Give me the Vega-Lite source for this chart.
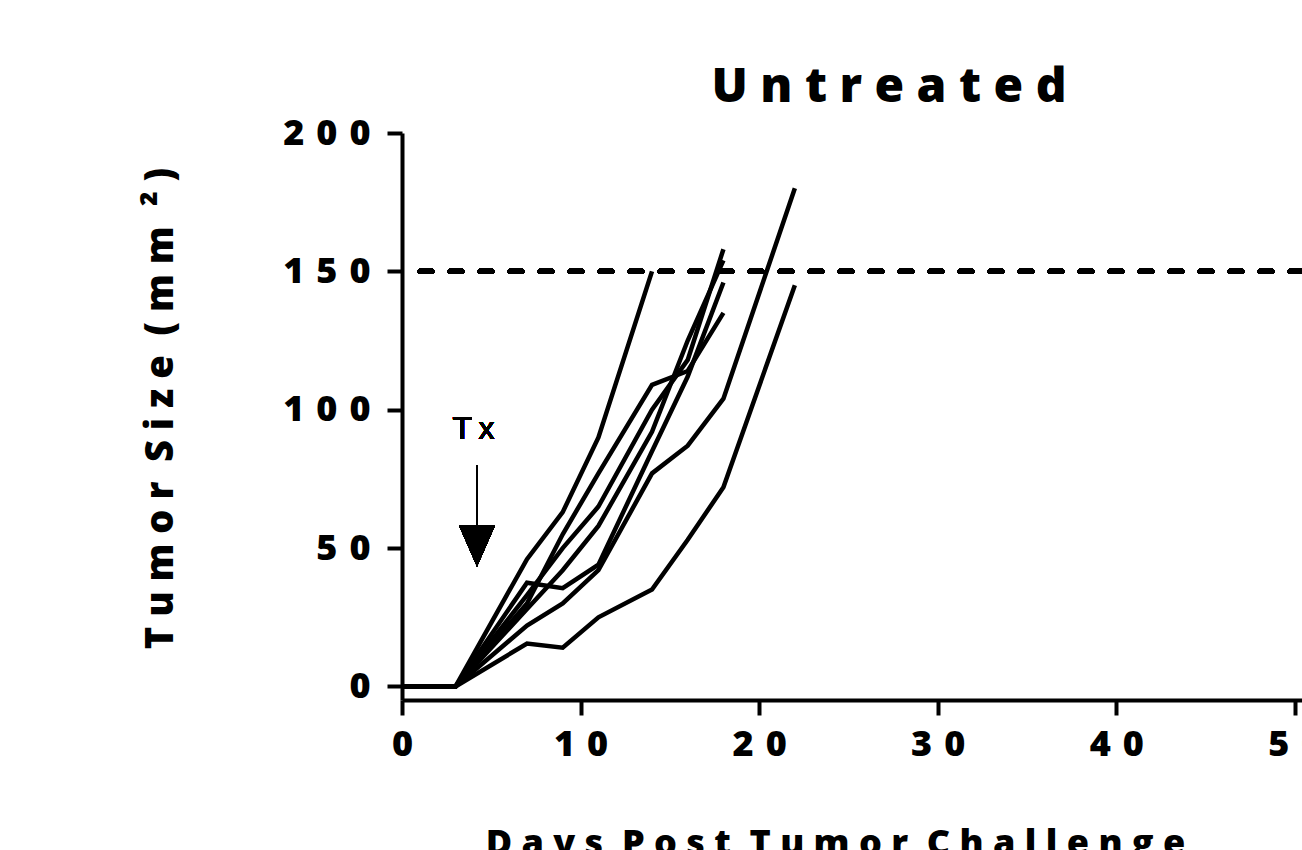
{
  "$schema": "https://vega.github.io/schema/vega-lite/v6.json",
  "width": 900,
  "height": 567,
  "autosize": {"type": "none"},
  "padding": {"left": 402, "top": 133, "right": 0, "bottom": 150},
  "background": "white",
  "config": {"view": {"stroke": null}, "font": "Open Sans"},
  "title": {"text": "U n t r e a t e d", "fontSize": 48, "fontWeight": 800, "font": "Open Sans", "color": "black", "anchor": "middle", "frame": "group", "baseline": "alphabetic", "offset": 29, "dx": 37, "dy": 64},
  "data": {"values": [
    {"mouse": "A", "day": 0, "size": 0}, {"mouse": "A", "day": 3, "size": 0}, {"mouse": "A", "day": 7, "size": 46}, {"mouse": "A", "day": 9, "size": 63}, {"mouse": "A", "day": 11, "size": 90}, {"mouse": "A", "day": 14, "size": 150},
    {"mouse": "B", "day": 0, "size": 0}, {"mouse": "B", "day": 3, "size": 0}, {"mouse": "B", "day": 7, "size": 33}, {"mouse": "B", "day": 9, "size": 50}, {"mouse": "B", "day": 11, "size": 65}, {"mouse": "B", "day": 14, "size": 100}, {"mouse": "B", "day": 16, "size": 118}, {"mouse": "B", "day": 18, "size": 158},
    {"mouse": "C", "day": 0, "size": 0}, {"mouse": "C", "day": 3, "size": 0}, {"mouse": "C", "day": 7, "size": 28}, {"mouse": "C", "day": 9, "size": 42}, {"mouse": "C", "day": 11, "size": 58}, {"mouse": "C", "day": 14, "size": 92}, {"mouse": "C", "day": 16, "size": 125}, {"mouse": "C", "day": 18, "size": 154},
    {"mouse": "D", "day": 0, "size": 0}, {"mouse": "D", "day": 3, "size": 0}, {"mouse": "D", "day": 7, "size": 37.5}, {"mouse": "D", "day": 9, "size": 35.5}, {"mouse": "D", "day": 11, "size": 44}, {"mouse": "D", "day": 14, "size": 85}, {"mouse": "D", "day": 16, "size": 112}, {"mouse": "D", "day": 18, "size": 146},
    {"mouse": "E", "day": 0, "size": 0}, {"mouse": "E", "day": 3, "size": 0}, {"mouse": "E", "day": 7, "size": 30}, {"mouse": "E", "day": 9, "size": 55}, {"mouse": "E", "day": 11, "size": 77}, {"mouse": "E", "day": 14, "size": 109}, {"mouse": "E", "day": 16, "size": 114}, {"mouse": "E", "day": 18, "size": 135},
    {"mouse": "F", "day": 0, "size": 0}, {"mouse": "F", "day": 3, "size": 0}, {"mouse": "F", "day": 7, "size": 22}, {"mouse": "F", "day": 9, "size": 30}, {"mouse": "F", "day": 11, "size": 42}, {"mouse": "F", "day": 14, "size": 77}, {"mouse": "F", "day": 16, "size": 87}, {"mouse": "F", "day": 18, "size": 104}, {"mouse": "F", "day": 22, "size": 180},
    {"mouse": "G", "day": 0, "size": 0}, {"mouse": "G", "day": 3, "size": 0}, {"mouse": "G", "day": 7, "size": 15.5}, {"mouse": "G", "day": 9, "size": 14}, {"mouse": "G", "day": 11, "size": 25}, {"mouse": "G", "day": 14, "size": 35}, {"mouse": "G", "day": 16, "size": 53}, {"mouse": "G", "day": 18, "size": 72}, {"mouse": "G", "day": 22, "size": 145}
  ]},
  "layer": [
    {
      "mark": {"type": "line", "color": "black", "strokeWidth": 4.5, "strokeJoin": "miter"},
      "encoding": {
        "x": {"field": "day", "type": "quantitative",
          "scale": {"domain": [0, 50.4], "nice": false, "zero": false},
          "axis": {"title": "D a y s \u00a0P o s t \u00a0T u m o r \u00a0C h a l l e n g e", "values": [0, 10, 20, 30, 40, 50], "grid": false,
            "domainColor": "black", "domainWidth": 4, "tickColor": "black", "tickWidth": 4, "tickSize": 15,
            "labelFont": "Open Sans", "labelFontSize": 36, "labelFontWeight": 800, "labelColor": "black", "labelPadding": 12,
            "labelFlush": false, "labelOverlap": false, "labelBound": false,
            "labelExpr": "join(split(datum.label, ''), '\u2004')",
            "titleFont": "Open Sans", "titleFontSize": 36, "titleFontWeight": 800, "titleColor": "black",
            "titleBaseline": "alphabetic", "titleX": 433, "titleY": 154, "titleAnchor": "middle", "titleAlign": "center"}},
        "y": {"field": "size", "type": "quantitative",
          "scale": {"domain": [-4.9, 200], "nice": false, "zero": false},
          "axis": {"title": "T u m o r \u00a0S i z e \u00a0( m m \u00a0² )", "values": [0, 50, 100, 150, 200], "grid": false,
            "domainColor": "black", "domainWidth": 4, "tickColor": "black", "tickWidth": 4, "tickSize": 15,
            "labelFont": "Open Sans", "labelFontSize": 36, "labelFontWeight": 800, "labelColor": "black", "labelPadding": 17,
            "labelOverlap": false, "labelBound": false,
            "labelExpr": "join(split(datum.label, ''), '\u2004')",
            "titleFont": "Open Sans", "titleFontSize": 38, "titleFontWeight": 800, "titleColor": "black",
            "titleBaseline": "alphabetic", "titleX": -230, "titleY": 275, "titleAngle": -90}},
        "detail": {"field": "mouse"},
        "order": {"field": "day"}
      }
    },
    {
      "mark": {"type": "rule", "color": "black", "strokeWidth": 5, "strokeDash": [12, 18], "strokeCap": "round"},
      "encoding": {"y": {"datum": 150}}
    },
    {
      "mark": {"type": "rule", "color": "black", "strokeWidth": 2},
      "encoding": {"x": {"datum": 4.2}, "y": {"datum": 80}, "y2": {"datum": 56}}
    },
    {
      "mark": {"type": "point", "filled": true, "color": "black", "opacity": 1, "shape": "M-1,-1.15L0,1.15L1,-1.15Z", "size": 1296},
      "encoding": {"x": {"datum": 4.2}, "y": {"datum": 50.8}}
    },
    {
      "mark": {"type": "text", "text": "T\u2009x", "font": "Liberation Sans", "fontSize": 32, "fontWeight": "normal", "color": "black", "align": "center", "baseline": "middle"},
      "encoding": {"x": {"datum": 4.0}, "y": {"datum": 93}}
    }
  ]
}
